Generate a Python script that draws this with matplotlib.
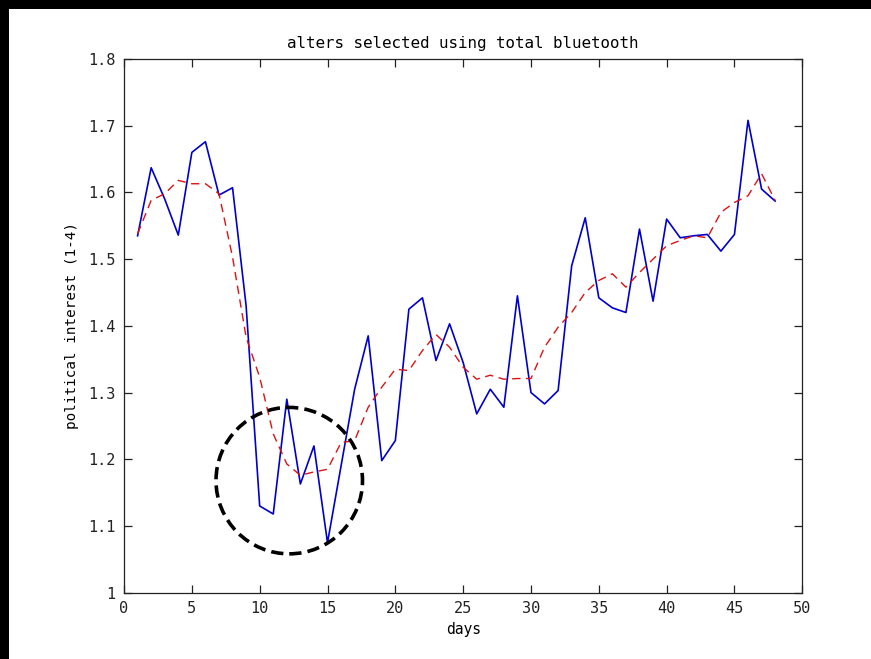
import matplotlib
matplotlib.use("Agg")
from matplotlib import pyplot as plt
from matplotlib.patches import Ellipse, Rectangle

# daily values
days = list(range(1, 49))
interest = [1.535, 1.637, 1.590, 1.536, 1.660, 1.676, 1.596, 1.607, 1.430, 1.130,
            1.118, 1.290, 1.163, 1.220, 1.075, 1.190, 1.305, 1.385, 1.198, 1.228,
            1.425, 1.442, 1.348, 1.403, 1.345, 1.268, 1.305, 1.278, 1.445, 1.300,
            1.283, 1.303, 1.490, 1.562, 1.442, 1.427, 1.420, 1.545, 1.437, 1.560,
            1.532, 1.535, 1.537, 1.512, 1.537, 1.708, 1.605, 1.587]
smoothed = [1.538, 1.588, 1.598, 1.618, 1.613, 1.613, 1.598, 1.503, 1.383, 1.323,
            1.238, 1.193, 1.176, 1.181, 1.185, 1.225, 1.228, 1.278, 1.308, 1.335,
            1.333, 1.363, 1.387, 1.368, 1.338, 1.320, 1.326, 1.320, 1.321, 1.321,
            1.368, 1.398, 1.420, 1.450, 1.468, 1.478, 1.458, 1.480, 1.500, 1.520,
            1.528, 1.535, 1.532, 1.570, 1.585, 1.595, 1.628, 1.588]

xticks = list(range(0, 51, 5))
yticks = [1.0, 1.1, 1.2, 1.3, 1.4, 1.5, 1.6, 1.7, 1.8]
ytick_labels = ['1', '1.1', '1.2', '1.3', '1.4', '1.5', '1.6', '1.7', '1.8']

# annotation circle (centre day, centre value, width in days, height in value)
circle_center = (12.18, 1.168)
circle_size = (10.8, 0.2195)

plt.rcParams['font.family'] = ['DejaVu Sans Mono']
plt.rcParams['font.size'] = 11

fig = plt.figure(figsize=(8.71, 6.59), dpi=100)
ax = fig.add_axes([0.1424, 0.1006, 0.7787, 0.8099])

ax.plot(days, interest, c='#0000cc', lw=1.2)
ax.plot(days, smoothed, c='#dd1111', lw=1.0, ls='--', dashes=(6, 4))

ax.add_patch(Ellipse(circle_center, circle_size[0], circle_size[1], fill=False,
                     ec='black', lw=2.6, ls=(0, (3.4, 1.7)), zorder=5))

ax.set_xlim(0, 50)
ax.set_ylim(1.0, 1.8)
ax.set_xticks(xticks)
ax.set_yticks(yticks)
ax.set_yticklabels(ytick_labels)
ax.tick_params(direction='in', length=5.5, width=0.9, top=True, right=True,
               pad=6, colors='#222222')
for s in ax.spines.values():
    s.set_linewidth(0.9)
    s.set_color('#222222')

ax.set_title("alters selected using total bluetooth", fontsize=11.4, pad=8)
ax.set_xlabel("days", fontsize=10.5, labelpad=4)
ax.set_ylabel("political interest (1-4)", fontsize=10.3, labelpad=7)

# black strips at the top and left edge of the screenshot
fig.patches.append(Rectangle((0, 0), 9 / 871, 1, transform=fig.transFigure,
                             fc='black', ec='none'))
fig.patches.append(Rectangle((0, 1 - 9 / 659), 1, 9 / 659, transform=fig.transFigure,
                             fc='black', ec='none'))

fig.savefig("out.png", dpi=100)
